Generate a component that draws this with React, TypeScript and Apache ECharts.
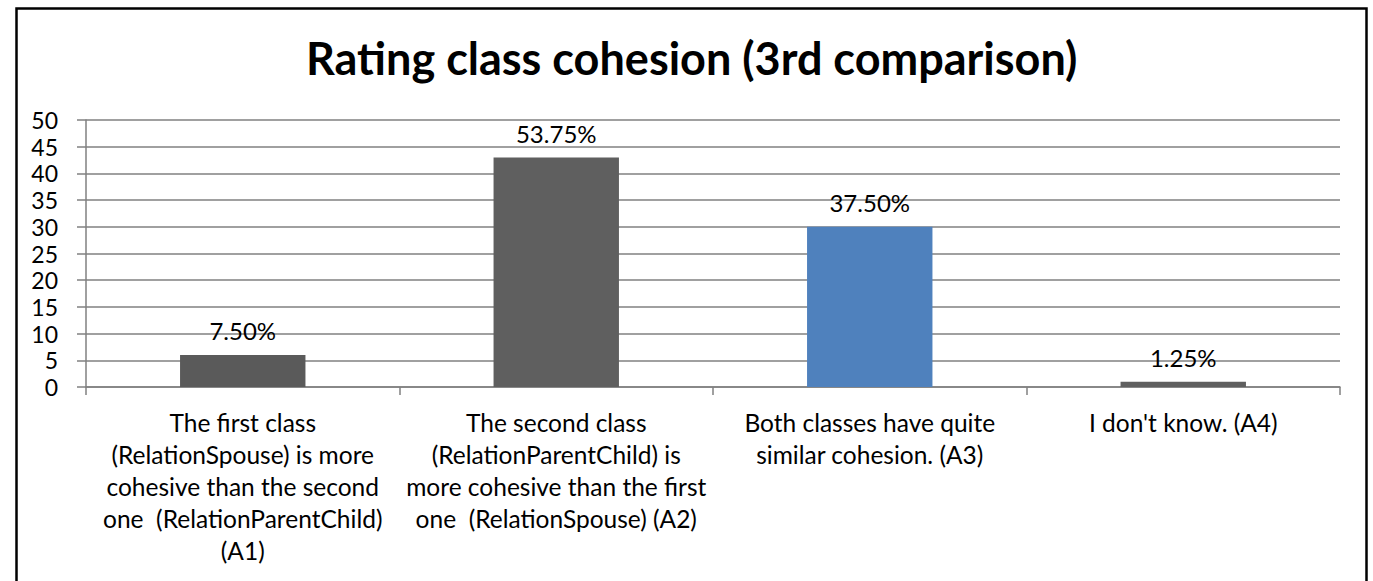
import React, { useEffect, useRef } from "react";
import * as echarts from "echarts";

const titleText = "Rating class cohesion (3rd comparison)";
const categories = [
  "The first class\n(RelationSpouse) is more\ncohesive than the second\none  (RelationParentChild)\n(A1)",
  "The second class\n(RelationParentChild) is\nmore cohesive than the first\none  (RelationSpouse) (A2)",
  "Both classes have quite\nsimilar cohesion. (A3)",
  "I don't know. (A4)",
];
const values = [6, 43, 30, 1];
const valueLabels = ["7.50%", "53.75%", "37.50%", "1.25%"];
const barColors = ["#5a5a5a", "#5f5f5f", "#4f81bd", "#5f5f5f"];
const yMin = 0;
const yMax = 50;
const yInterval = 5;

const FONT = "Lato, 'Noto Sans', sans-serif";

export default function App() {
  const ref = useRef<HTMLDivElement>(null);
  useEffect(() => {
    document.body.style.margin = "0";
    if (!ref.current) return;
    const chart = echarts.init(ref.current, null, { renderer: "svg" });
    chart.setOption({
      animation: false,
      backgroundColor: "#ffffff",
      textStyle: { fontFamily: FONT },
      title: {
        text: titleText,
        left: 301,
        top: 30,
        textStyle: { fontFamily: FONT, fontSize: 45, fontWeight: "bold", color: "#000" },
      },
      graphic: [
        {
          type: "rect",
          shape: { x: 16.5, y: 8.5, width: 1350, height: 600 },
          style: { fill: "none", stroke: "#000", lineWidth: 2.5 },
          silent: true,
        },
      ],
      grid: { left: 86, right: 33, top: 120, bottom: 194, containLabel: false },
      xAxis: {
        type: "category",
        data: categories,
        boundaryGap: true,
        axisLine: { lineStyle: { color: "#808080", width: 1.5 } },
        axisTick: { show: true, length: 8, lineStyle: { color: "#808080", width: 1.5 } },
        axisLabel: {
          interval: 0,
          margin: 19,
          fontFamily: FONT,
          fontSize: 24.5,
          lineHeight: 32,
          color: "#000",
          align: "center",
        },
      },
      yAxis: {
        type: "value",
        min: yMin,
        max: yMax,
        interval: yInterval,
        axisLine: { show: true, lineStyle: { color: "#808080", width: 1.5 } },
        axisTick: { show: true, length: 9, lineStyle: { color: "#808080", width: 1.5 } },
        splitLine: { show: true, lineStyle: { color: "#808080", width: 1.5 } },
        axisLabel: { margin: 28, fontFamily: FONT, fontSize: 23, color: "#000" },
      },
      series: [
        {
          type: "bar",
          barWidth: "40%",
          data: values.map((v, i) => ({
            value: v,
            itemStyle: { color: barColors[i] },
          })),
          label: {
            show: true,
            position: "top",
            distance: 12,
            fontFamily: FONT,
            fontSize: 24,
            color: "#000",
            formatter: (p: any) => valueLabels[p.dataIndex],
          },
        },
      ],
    });
    return () => chart.dispose();
  }, []);
  return <div ref={ref} style={{ width: 1373, height: 581 }} />;
}
